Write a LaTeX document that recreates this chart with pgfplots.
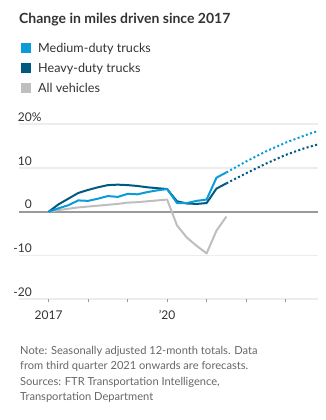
\documentclass[border=0pt]{standalone}
\usepackage{fontspec}
\setmainfont{Lato}
\usepackage{pgfplots}
\pgfplotsset{compat=1.18}
\definecolor{med}{HTML}{0A9BD9}
\definecolor{heavy}{HTML}{00597F}
\definecolor{allv}{HTML}{BEBEBE}
\definecolor{gridc}{HTML}{EDEDED}
\definecolor{zeroc}{HTML}{9A9A9A}
\definecolor{txt}{HTML}{333333}
\definecolor{notec}{HTML}{666666}
\begin{document}
\begin{tikzpicture}[x=1pt,y=1pt]
\useasboundingbox (0,0) rectangle (325,420);
\node[anchor=base west, inner sep=0, text=txt, font=\fontsize{14}{16}\selectfont\bfseries] at (19,396) {Change in miles driven since 2017};
\foreach \c/\t/\yy in {med/Medium-duty trucks/367.3, heavy/Heavy-duty trucks/347.3, allv/All vehicles/327.3}{
  \fill[\c] (21,\yy) rectangle (31,\yy+10);
  \node[anchor=base west, inner sep=0, text=txt, font=\fontsize{12.6}{15}\selectfont] at (38,\yy) {\t};
}
\begin{axis}[
  at={(19pt,120.7pt)}, anchor=south west,
  scale only axis, width=299pt, height=175pt,
  xmin=2016.25, xmax=2023.82, ymin=-20, ymax=20,
  axis line style={draw=none},
  clip=false,
  xtick={2017,2018,2019,2020,2021,2022,2023},
  xticklabels={2017,,,’20,,,},
  xtick pos=bottom, tick align=outside,
  major tick length=3pt,
  xtick style={draw=zeroc, line width=0.8pt},
  xticklabel style={anchor=north, yshift=-8pt, inner sep=0pt, text=txt, font=\fontsize{12}{14}\selectfont},
  ytick={-20,-10,10,20},
  yticklabels={-20,-10,10,20\rlap{\%}},
  ytick style={draw=none},
  yticklabel style={anchor=base east, xshift=16pt, yshift=3pt, inner sep=0pt, text=txt, font=\fontsize{12}{14}\selectfont},
  ymajorgrids, grid style={gridc, line width=1.6pt},
  extra y ticks={0}, extra y tick labels={0},
  extra y tick style={grid style={zeroc, line width=2pt}, ytick style={draw=none}},
]
\addplot[allv, line width=2pt, line join=round] coordinates {
(2017.00,0) (2017.25,0.4) (2017.50,0.7) (2017.75,1.0) (2018.00,1.2) (2018.25,1.4) (2018.50,1.6) (2018.75,1.8) (2019.00,2.1) (2019.25,2.2) (2019.50,2.4) (2019.75,2.6) (2020.00,2.8) (2020.25,-3.1) (2020.50,-5.9) (2020.75,-7.8) (2021.00,-9.5) (2021.25,-4.3) (2021.50,-1.1)};
\addplot[heavy, line width=2pt, line join=round] coordinates {
(2017.00,0) (2017.25,1.7) (2017.50,3.0) (2017.75,4.3) (2018.00,5.0) (2018.25,5.6) (2018.50,6.1) (2018.75,6.2) (2019.00,6.1) (2019.25,5.9) (2019.50,5.6) (2019.75,5.4) (2020.00,5.2) (2020.25,2.4) (2020.50,1.9) (2020.75,1.8) (2021.00,2.0) (2021.25,5.3) (2021.50,6.5)};
\addplot[med, line width=2pt, line join=round] coordinates {
(2017.00,0) (2017.25,0.8) (2017.50,1.5) (2017.75,2.6) (2018.00,2.5) (2018.25,3.0) (2018.50,3.6) (2018.75,3.4) (2019.00,4.1) (2019.25,4.0) (2019.50,4.5) (2019.75,4.9) (2020.00,5.2) (2020.25,2.0) (2020.50,2.0) (2020.75,2.5) (2021.00,2.8) (2021.25,7.8) (2021.50,9.0)};
\addplot[heavy, line width=2pt, dash pattern=on 2pt off 2.4pt] coordinates {
(2021.50,6.5) (2022.00,8.8) (2022.50,11.0) (2023.00,13.0) (2023.50,14.6) (2023.82,15.4)};
\addplot[med, line width=2pt, dash pattern=on 2pt off 2.4pt] coordinates {
(2021.50,9.0) (2022.00,11.5) (2022.50,13.8) (2023.00,15.8) (2023.50,17.5) (2023.82,18.5)};
\end{axis}
\foreach \t/\yy in {{Note: Seasonally adjusted 12-month totals. Data}/65.7, {from third quarter 2021 onwards are forecasts.}/50.2, {Sources: FTR Transportation Intelligence,}/34.7, {Transportation Department}/19.2}{
  \node[anchor=base west, inner sep=0, text=notec, font=\fontsize{11.1}{13}\selectfont] at (20,\yy) {\t};
}
\end{tikzpicture}
\end{document}
